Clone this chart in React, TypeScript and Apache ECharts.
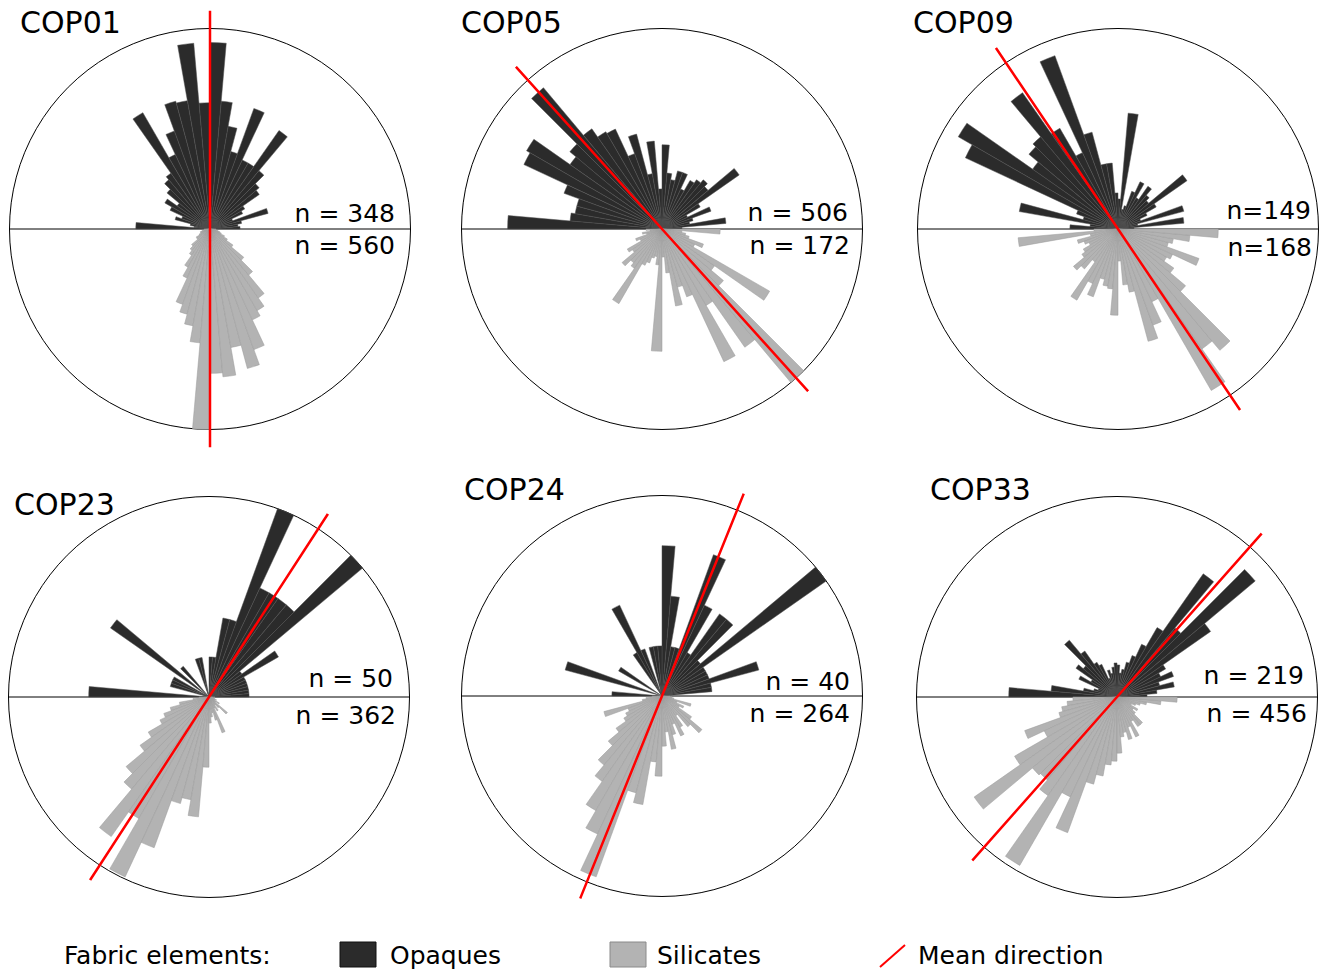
import React, { useEffect, useRef } from 'react';
import * as echarts from 'echarts';

// ---------- DATA ----------
const panelNames = ['COP01', 'COP05', 'COP09', 'COP23', 'COP24', 'COP33'];

// 5° bins, upper half (0°–180°, counter-clockwise from east): opaques
// lower half (180°–360°): silicates. Values are relative lengths (100 = circle radius).
const cop01Opaques = [15, 14, 16, 30, 12, 18, 20, 30, 32, 38, 60, 38, 38, 64, 40, 52, 64, 93, 63, 93, 65, 66, 52, 41, 67, 34, 32, 28, 20, 26, 22, 15, 18, 10, 8, 37];
const cop01Silicates = [3, 3, 4, 5, 5, 6, 8, 8, 12, 14, 16, 22, 27, 40, 44, 49, 57, 100, 72, 74, 60, 72, 64, 50, 47, 42, 30, 22, 14, 10, 8, 6, 5, 4, 3, 3];

const cop05Opaques = [10, 32, 14, 16, 26, 14, 22, 47, 30, 32, 30, 28, 22, 30, 30, 25, 28, 42, 20, 44, 28, 49, 40, 55, 56, 61, 92, 60, 56, 78, 76, 52, 44, 44, 46, 77];
const cop05Silicates = [8, 6, 10, 8, 14, 12, 20, 18, 26, 22, 24, 43, 20, 18, 15, 14, 18, 61, 14, 22, 39, 30, 36, 73, 44, 72, 100, 40, 32, 62, 18, 22, 14, 12, 10, 29];

const cop09Opaques = [8, 33, 10, 34, 12, 16, 22, 42, 20, 22, 26, 18, 26, 20, 12, 10, 58, 15, 18, 33, 33, 50, 92, 42, 58, 83, 60, 58, 52, 92, 84, 22, 18, 50, 14, 24];
const cop09Silicates = [12, 50, 14, 21, 18, 16, 20, 22, 29, 26, 20, 41, 30, 36, 26, 29, 30, 43, 16, 28, 32, 58, 51, 40, 93, 73, 79, 44, 34, 28, 30, 43, 26, 28, 36, 50];

const cop23Opaques = [20, 20, 20, 20, 20, 20, 40, 20, 100, 60, 60, 60, 60, 100, 40, 40, 20, 20, 0, 0, 20, 20, 0, 0, 0, 0, 20, 0, 60, 0, 20, 20, 20, 0, 0, 60];
const cop23Silicates = [5, 8, 15, 20, 24, 27, 35, 42, 54, 60, 85, 70, 99, 80, 55, 52, 60, 35, 13, 10, 8, 12, 19, 6, 8, 5, 7, 12, 4, 6, 3, 4, 3, 2, 2, 3];

const cop24Opaques = [0, 25, 25, 50, 25, 25, 25, 100, 25, 50, 50, 25, 50, 75, 25, 25, 50, 75, 25, 25, 25, 0, 25, 50, 25, 0, 0, 0, 0, 25, 0, 0, 50, 0, 0, 25];
const cop24Silicates = [5, 8, 10, 30, 18, 20, 22, 28, 35, 45, 52, 66, 76, 96, 50, 55, 33, 40, 25, 18, 27, 20, 15, 22, 18, 12, 20, 26, 18, 10, 12, 8, 15, 6, 5, 4];

const cop33Opaques = [15, 20, 29, 22, 30, 24, 28, 57, 90, 45, 75, 40, 29, 22, 18, 14, 12, 16, 17, 15, 12, 14, 10, 18, 20, 28, 37, 22, 25, 15, 21, 10, 12, 17, 33, 54];
const cop33Silicates = [22, 25, 28, 30, 49, 40, 59, 87, 55, 54, 60, 97, 55, 72, 45, 40, 34, 32, 28, 20, 18, 22, 16, 22, 14, 18, 18, 12, 10, 12, 8, 10, 12, 15, 22, 30];

const opaquesByPanel = [cop01Opaques, cop05Opaques, cop09Opaques, cop23Opaques, cop24Opaques, cop33Opaques];
const silicatesByPanel = [cop01Silicates, cop05Silicates, cop09Silicates, cop23Silicates, cop24Silicates, cop33Silicates];

const nOpaquesLabels = ['n = 348', 'n = 506', 'n=149', 'n = 50', 'n = 40', 'n = 219'];
const nSilicatesLabels = ['n = 560', 'n = 172', 'n=168', 'n = 362', 'n = 264', 'n = 456'];

// mean direction, degrees counter-clockwise from east
const meanDirection = [90, 132, 124, 57, 68, 48.5];

const binLabels = Array.from({ length: 72 }, (_, i) => `${i * 5}°`);

// ---------- LAYOUT ----------
const centers = [[210, 229], [662, 229], [1118, 229], [209, 697], [662, 696], [1117, 697]];
const R = 200.5;
const LINE_EXT = 1.09; // mean-direction line reaches a bit beyond the circle
const titlePos = [[20, 22.5], [461, 22.5], [913, 22.5], [14, 504], [464, 489.5], [930, 489.5]];
const nUpperPos = [[395, 213.3], [848, 212.5], [1311, 210], [393, 678.3], [850, 681.7], [1304, 675.8]];
const nLowerPos = [[395, 245.5], [850, 245.5], [1312, 247.5], [396, 715.5], [850, 713], [1307, 713.3]];

const FONT = 'DejaVu Sans';
const DARK = '#2b2b2b';
const GRAY = '#b3b3b3';

function buildOption() {
  const polar: any[] = [];
  const angleAxis: any[] = [];
  const radiusAxis: any[] = [];
  const series: any[] = [];
  const graphic: any[] = [];
  const hidden = {
    axisLine: { show: false }, axisTick: { show: false },
    axisLabel: { show: false }, splitLine: { show: false },
  };

  panelNames.forEach((name, i) => {
    const bi = i * 3;      // bars + outer circle
    const li = i * 3 + 1;  // mean-direction line
    const hi = i * 3 + 2;  // horizontal diameter
    polar.push({ center: centers[i], radius: R });
    polar.push({ center: centers[i], radius: R * LINE_EXT });
    polar.push({ center: centers[i], radius: R });
    angleAxis.push({
      polarIndex: bi, type: 'category', data: binLabels,
      startAngle: 0, clockwise: false, boundaryGap: true,
      axisLine: { show: true, lineStyle: { color: '#000', width: 1 } },
      axisTick: { show: false }, axisLabel: { show: false }, splitLine: { show: false },
    });
    angleAxis.push({
      polarIndex: li, type: 'value', min: 0, max: 360,
      startAngle: 0, clockwise: false, ...hidden,
    });
    angleAxis.push({
      polarIndex: hi, type: 'value', min: 0, max: 360, interval: 180,
      startAngle: 0, clockwise: false,
      axisLine: { show: false }, axisTick: { show: false }, axisLabel: { show: false },
      splitLine: { show: true, lineStyle: { color: '#000', width: 1 } },
    });
    radiusAxis.push({ polarIndex: bi, type: 'value', min: 0, max: 100, ...hidden });
    radiusAxis.push({ polarIndex: li, type: 'value', min: 0, max: 100, ...hidden });
    radiusAxis.push({ polarIndex: hi, type: 'value', min: 0, max: 100, ...hidden });

    const op = opaquesByPanel[i];
    const si = silicatesByPanel[i];
    series.push({
      type: 'bar', name: 'Opaques', coordinateSystem: 'polar', polarIndex: bi,
      data: [...op, ...si.map(() => '-')],
      barCategoryGap: '0%', barGap: '-100%',
      itemStyle: { color: DARK, borderColor: '#505050', borderWidth: 0.5 },
      z: 3, silent: true,
    });
    series.push({
      type: 'bar', name: 'Silicates', coordinateSystem: 'polar', polarIndex: bi,
      data: [...op.map(() => '-'), ...si],
      barCategoryGap: '0%', barGap: '-100%',
      itemStyle: { color: GRAY, borderColor: '#9a9a9a', borderWidth: 0.5 },
      z: 3, silent: true,
    });
    const m = meanDirection[i];
    series.push({
      type: 'line', name: 'Mean direction', coordinateSystem: 'polar', polarIndex: li,
      data: [[100, m], [0, m], [100, m + 180]],
      symbol: 'none', clip: false, silent: true,
      lineStyle: { color: '#ff0000', width: 2.5 },
      z: 6,
    });

    graphic.push({
      type: 'text', x: titlePos[i][0], y: titlePos[i][1], z: 10,
      style: { text: name, fontSize: 30, fontFamily: FONT, fill: '#000', align: 'left', verticalAlign: 'middle' },
    });
    graphic.push({
      type: 'text', x: nUpperPos[i][0], y: nUpperPos[i][1], z: 10,
      style: { text: nOpaquesLabels[i], fontSize: 25, fontFamily: FONT, fill: '#000', align: 'right', verticalAlign: 'middle' },
    });
    graphic.push({
      type: 'text', x: nLowerPos[i][0], y: nLowerPos[i][1], z: 10,
      style: { text: nSilicatesLabels[i], fontSize: 25, fontFamily: FONT, fill: '#000', align: 'right', verticalAlign: 'middle' },
    });
  });

  // legend
  const ly = 955;
  graphic.push(
    { type: 'text', x: 64, y: ly, style: { text: 'Fabric elements:', fontSize: 25, fontFamily: FONT, fill: '#000', align: 'left', verticalAlign: 'middle' } },
    { type: 'rect', shape: { x: 340, y: 942, width: 36, height: 25 }, style: { fill: DARK, stroke: '#111', lineWidth: 1 } },
    { type: 'text', x: 390, y: ly, style: { text: 'Opaques', fontSize: 25, fontFamily: FONT, fill: '#000', align: 'left', verticalAlign: 'middle' } },
    { type: 'rect', shape: { x: 610, y: 942, width: 36, height: 25 }, style: { fill: GRAY, stroke: '#8a8a8a', lineWidth: 1 } },
    { type: 'text', x: 657, y: ly, style: { text: 'Silicates', fontSize: 25, fontFamily: FONT, fill: '#000', align: 'left', verticalAlign: 'middle' } },
    { type: 'line', shape: { x1: 880, y1: 967, x2: 905, y2: 945 }, style: { stroke: '#ff0000', lineWidth: 2 } },
    { type: 'text', x: 918, y: ly, style: { text: 'Mean direction', fontSize: 25, fontFamily: FONT, fill: '#000', align: 'left', verticalAlign: 'middle' } },
  );

  return {
    animation: false,
    backgroundColor: '#ffffff',
    polar, angleAxis, radiusAxis, series, graphic,
  };
}

export default function App() {
  const ref = useRef<HTMLDivElement>(null);
  useEffect(() => {
    if (!ref.current) return;
    const chart = echarts.init(ref.current, undefined, { renderer: 'svg' });
    chart.setOption(buildOption());
    return () => chart.dispose();
  }, []);
  return (
    <div
      ref={ref}
      style={{ position: 'absolute', left: 0, top: 0, width: 1327, height: 970, background: '#fff' }}
    />
  );
}
